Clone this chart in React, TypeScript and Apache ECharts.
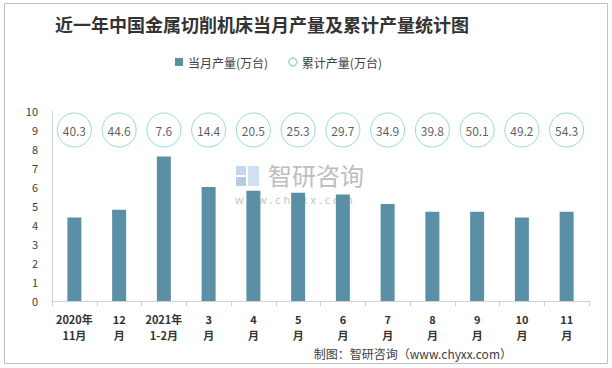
import React, { useEffect, useRef } from "react";
import * as echarts from "echarts";

const categories = ["2020年\n11月", "12\n月", "2021年\n1-2月", "3\n月", "4\n月", "5\n月", "6\n月", "7\n月", "8\n月", "9\n月", "10\n月", "11\n月"];
const monthly = [4.4, 4.8, 7.6, 6.0, 5.8, 5.7, 5.6, 5.1, 4.7, 4.7, 4.4, 4.7];
const cumulative = [40.3, 44.6, 7.6, 14.4, 20.5, 25.3, 29.7, 34.9, 39.8, 50.1, 49.2, 54.3];
const yTicks = { min: 0, max: 10, interval: 1 };

export default function App() {
  const ref = useRef<HTMLDivElement>(null);
  useEffect(() => {
    document.body.style.margin = "0";
    const chart = echarts.init(ref.current!, null, { renderer: "svg" });
    const circleRow = 9;
    chart.setOption({
      animation: false,
      backgroundColor: "#fff",
      textStyle: { fontFamily: "'Noto Sans CJK SC', 'Noto Sans', sans-serif" },
      legend: {
        left: 170,
        top: 51,
        itemWidth: 8,
        itemHeight: 8,
        itemGap: 20,
        textStyle: { fontSize: 12, color: "#404040" },
        data: [
          { name: "当月产量(万台)", icon: "rect" },
          { name: "累计产量(万台)", icon: "circle", itemStyle: { color: "#fff", borderColor: "#7ccfc4", borderWidth: 1.5 } },
        ],
      },
      grid: { left: 52, right: 23, top: 111, bottom: 67 },
      xAxis: {
        type: "category",
        data: categories,
        axisLine: { lineStyle: { color: "#d0d0d0" } },
        axisTick: { show: true, length: 5, lineStyle: { color: "#d0d0d0" } },
        axisLabel: { fontSize: 11, fontWeight: "bold", color: "#333", lineHeight: 16, margin: 10, interval: 0 },
      },
      yAxis: {
        type: "value",
        min: yTicks.min,
        max: yTicks.max,
        interval: yTicks.interval,
        axisLine: { show: true, lineStyle: { color: "#d0d0d0" } },
        axisTick: { show: false },
        splitLine: { show: false },
        axisLabel: { fontSize: 11, color: "#404040", margin: 14 },
      },
      graphic: [
        { type: "rect", shape: { x: 4.5, y: 3.5, width: 603, height: 360 }, style: { fill: "none", stroke: "#bfbfbf", lineWidth: 1 }, z: -10 },
        { type: "text", x: 262, y: 15, style: { text: "近一年中国金属切削机床当月产量及累计产量统计图", font: "bold 18px 'Noto Sans CJK SC', serif", fill: "#333", textAlign: "center" } },
        { type: "rect", shape: { x: 236, y: 166, width: 10, height: 9 }, style: { fill: "#c9d6ea" }, z: -1 },
        { type: "rect", shape: { x: 236, y: 177, width: 10, height: 9 }, style: { fill: "#b5cbe6" }, z: -1 },
        { type: "rect", shape: { x: 248, y: 166, width: 11, height: 20 }, style: { fill: "#cfe0f2" }, z: -1 },
        { type: "text", x: 268, y: 162, style: { text: "智研咨询", font: "24px 'Noto Sans CJK SC'", fill: "#bdbdbd" }, z: -1 },
        { type: "text", x: 235, y: 194, style: { text: "w w w . c h y x x . c o m", font: "11px 'Noto Sans'", fill: "#c4c4c4" }, z: -1 },
        { type: "text", x: 512, y: 347, style: { text: "制图：智研咨询（www.chyxx.com）", font: "12px 'Noto Sans CJK SC'", fill: "#404040", textAlign: "right" } },
      ],
      series: [
        {
          name: "当月产量(万台)",
          type: "bar",
          data: monthly,
          barWidth: 14,
          itemStyle: { color: "#5b8fa6" },
          z: 2,
        },
        {
          name: "累计产量(万台)",
          type: "scatter",
          data: cumulative.map((v) => ({ value: circleRow, cum: v })),
          symbol: "circle",
          symbolSize: 34,
          itemStyle: { color: "#fff", borderColor: "#7ccfc4", borderWidth: 1 },
          label: {
            show: true,
            position: "inside",
            fontSize: 12,
            color: "#333",
            formatter: (p: any) => String(cumulative[p.dataIndex]),
          },
          z: 3,
        },
      ],
    });
    return () => chart.dispose();
  }, []);
  return <div ref={ref} style={{ width: 612, height: 368 }} />;
}
